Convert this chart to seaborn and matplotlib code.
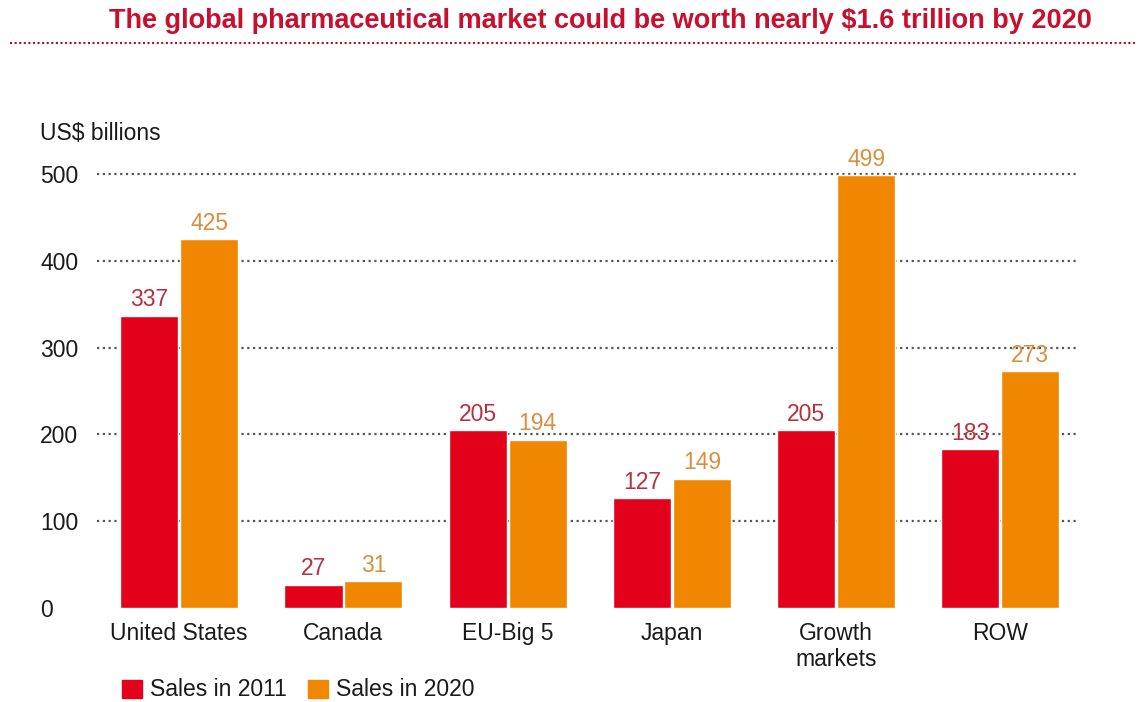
import matplotlib
matplotlib.use("Agg")
import matplotlib.pyplot as plt
from matplotlib.patches import Rectangle
import seaborn as sns
import pandas as pd

# Data (US$ billions)
regions = ["United States", "Canada", "EU-Big 5", "Japan", "Growth\nmarkets", "ROW"]
sales_2011 = [337, 27, 205, 127, 205, 183]
sales_2020 = [425, 31, 194, 149, 499, 273]
series = ["Sales in 2011", "Sales in 2020"]
yticks = [0, 100, 200, 300, 400, 500]

RED = "#e2001a"
ORANGE = "#f18700"
RED_TXT = "#b8313f"
ORANGE_TXT = "#d98f3c"
TITLE_RED = "#c8102e"
FS = 16.5

df = pd.DataFrame({
    "region": regions * 2,
    "value": sales_2011 + sales_2020,
    "series": [series[0]] * len(regions) + [series[1]] * len(regions),
})

sns.set_theme(style="white")
plt.rcParams["font.family"] = ["Liberation Sans", "DejaVu Sans"]

fig = plt.figure(figsize=(11.42, 7.02), dpi=100)
ax = fig.add_axes([0.085, 0.134, 0.860, 0.618])

sns.barplot(data=df, x="region", y="value", hue="series", order=regions,
            hue_order=series, palette=[RED, ORANGE], width=0.73, gap=0.03,
            saturation=1, ax=ax, legend=False, zorder=3)

ax.set_ylim(0, 500)
ax.set_xlim(-0.5, 5.48)
ax.set_yticks(yticks)
for y in yticks[1:]:
    ax.axhline(y, color="#555555", lw=1.6, ls=(0, (1, 1.6)), zorder=1, clip_on=False)

for s in ax.spines.values():
    s.set_visible(False)
ax.set_xlabel("")
ax.set_ylabel("")
ax.tick_params(axis="both", length=0)
ax.tick_params(axis="x", labelsize=FS, colors="#1a1a1a", pad=10)
ax.set_yticklabels([str(t) for t in yticks], fontsize=FS, color="#1a1a1a", ha="left")
ax.tick_params(axis="y", pad=41)
for lab in ax.get_xticklabels():
    lab.set_linespacing(1.15)
    lab.set_va("top")

# Value labels above bars
txt_colors = [RED_TXT, ORANGE_TXT]
for container, col in zip(ax.containers, txt_colors):
    ax.bar_label(container, fmt="%d", padding=3, fontsize=FS, color=col, clip_on=False)

# Axis unit label
fig.text(40 / 1142, 1 - 133 / 702, "US$ billions", fontsize=FS, color="#1a1a1a",
         ha="left", va="center")

# Title and dotted rule
fig.text(600 / 1142, 1 - 21 / 702, "The global pharmaceutical market could be worth nearly $1.6 trillion by 2020",
         fontsize=19.5, fontweight="bold", color=TITLE_RED, ha="center", va="center")
fig.add_artist(plt.Line2D([10 / 1142, 1135 / 1142], [1 - 43 / 702] * 2, color="#a0182a",
                          lw=1.5, ls=(0, (1, 1.2)), transform=fig.transFigure))

# Legend along the bottom
for x0, col, label in [(122, RED, series[0]), (308, ORANGE, series[1])]:
    fig.add_artist(Rectangle((x0 / 1142, 1 - 698 / 702), 20 / 1142, 18 / 702,
                             color=col, transform=fig.transFigure))
    fig.text((x0 + 28) / 1142, 1 - 689 / 702, label, fontsize=FS, color="#1a1a1a",
             ha="left", va="center")

fig.savefig("out.png", dpi=100, facecolor="white")
